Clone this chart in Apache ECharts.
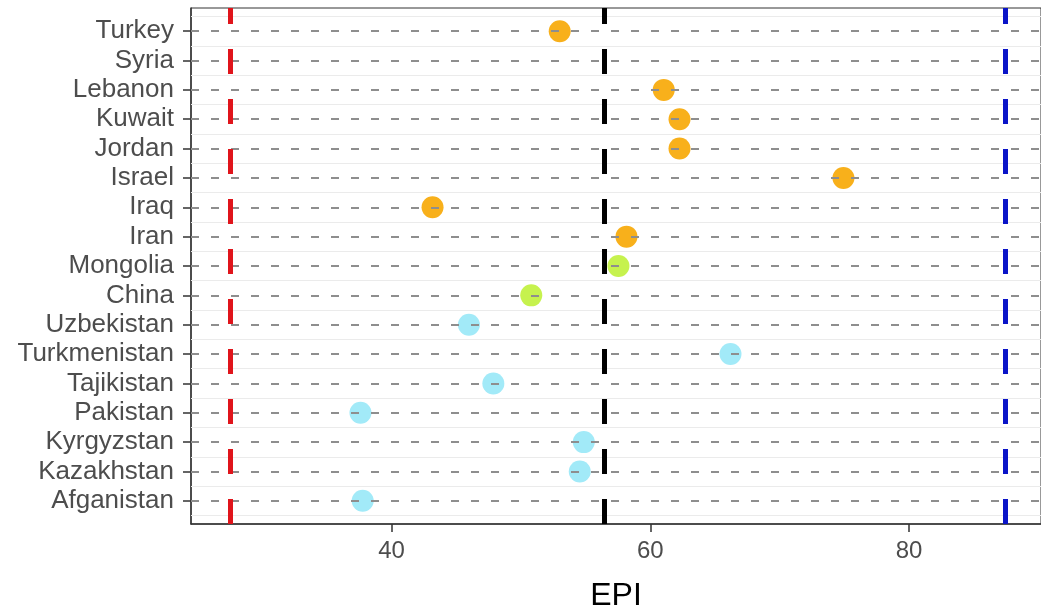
<!DOCTYPE html>
<html>
<head>
<meta charset="utf-8">
<script src="https://cdn.jsdelivr.net/npm/echarts@6/dist/echarts.min.js"></script>
<style>
  html, body { margin: 0; padding: 0; background: #fff; }
  #chart { width: 1041px; height: 609px; }
</style>
</head>
<body>
<div id="chart"></div>
<script>
// categories, bottom to top
const categories = ['Afganistan','Kazakhstan','Kyrgyzstan','Pakistan','Tajikistan','Turkmenistan','Uzbekistan','China','Mongolia','Iran','Iraq','Israel','Jordan','Kuwait','Lebanon','Syria','Turkey'];
const epi = [37.77, 54.55, 54.86, 37.6, 47.87, 66.2, 45.98, 50.8, 57.54, 58.16, 43.17, 74.93, 62.26, 62.26, 61.04, null, 53.0];
const groups = ['CA','CA','CA','CA','CA','CA','CA','EA','EA','ME','ME','ME','ME','ME','ME','ME','ME'];
const groupColors = { CA: '#A2EAF8', EA: '#C6F24E', ME: '#F8B01B' };
const refValues = [27.56, 56.48, 87.4];
const refColors = ['#E0141B', '#000000', '#0A14C8'];
const xTicks = [40, 60, 80];

const FONT = "'Liberation Sans', Arial, sans-serif";

const pointData = [];
categories.forEach((c, i) => {
  if (epi[i] !== null) {
    pointData.push({ value: [epi[i], i], itemStyle: { color: groupColors[groups[i]], opacity: 1 } });
  }
});

const boundaryLines = [];
for (let i = 0; i <= categories.length; i++) boundaryLines.push({ yAxis: i - 0.5 });
const categoryLines = categories.map((c, i) => ({ yAxis: i }));
const refLines = refValues.map((v, i) => ({ xAxis: v, lineStyle: { color: refColors[i] } }));

const chart = echarts.init(document.getElementById('chart'), null, { renderer: 'canvas' });
chart.setOption({
  animation: false,
  backgroundColor: '#ffffff',
  grid: { left: 191, right: 0, top: 8, bottom: 85, containLabel: false, outerBoundsMode: 'none',
          show: true, borderColor: '#333', borderWidth: 1, backgroundColor: 'transparent' },
  xAxis: {
    type: 'value', min: 24.5, max: 90.2,
    name: 'EPI', nameLocation: 'middle', nameGap: 56,
    nameTextStyle: { fontFamily: FONT, fontSize: 32, color: '#000' },
    axisLine: { show: true, onZero: false, lineStyle: { color: '#333', width: 1.5 } },
    axisTick: { show: true, length: 8, lineStyle: { color: '#333', width: 1.5 }, customValues: xTicks },
    axisLabel: { fontFamily: FONT, fontSize: 24, color: '#4D4D4D', margin: 15, customValues: xTicks },
    splitLine: { show: false }
  },
  yAxis: {
    type: 'value', min: -0.79, max: categories.length - 1 + 0.79,
    axisLine: { show: true, onZero: false, lineStyle: { color: '#333', width: 1.5 } },
    axisTick: { show: true, length: 8, lineStyle: { color: '#333', width: 1.5 }, customValues: categories.map((c, i) => i) },
    axisLabel: {
      fontFamily: FONT, fontSize: 26, color: '#4D4D4D', margin: 17,
      customValues: categories.map((c, i) => i),
      formatter: v => categories[Math.round(v)]
    },
    splitLine: { show: false }
  },
  series: [
    {
      type: 'scatter', data: [], silent: true, z: 1,
      markLine: {
        silent: true, symbol: 'none', label: { show: false }, animation: false,
        lineStyle: { color: '#EBEBEB', width: 1, type: 'solid' },
        data: boundaryLines
      }
    },
    {
      type: 'scatter', data: [], silent: true, z: 2,
      markLine: {
        silent: true, symbol: 'none', label: { show: false }, animation: false,
        lineStyle: { color: '#8E8E8E', width: 1.8, type: [8, 12] },
        data: categoryLines
      }
    },
    {
      type: 'scatter', data: [], silent: true, z: 3,
      markLine: {
        silent: true, symbol: 'none', label: { show: false }, animation: false,
        lineStyle: { width: 5, type: [25, 25] },
        data: refLines
      }
    },
    {
      type: 'scatter', z: 4, symbol: 'circle', symbolSize: 22,
      itemStyle: { opacity: 1 },
      data: pointData
    }
  ]
});
</script>
</body>
</html>
